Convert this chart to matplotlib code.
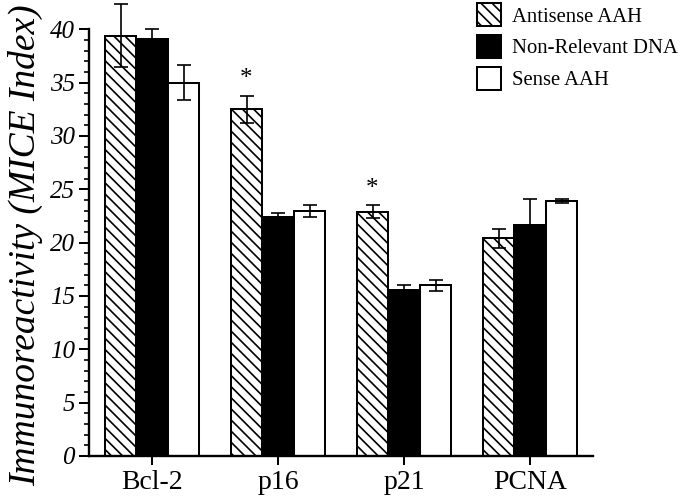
import numpy as np
import matplotlib
matplotlib.use("Agg")
import matplotlib.pyplot as plt
from matplotlib.ticker import MultipleLocator

# values
markers = ["Bcl-2", "p16", "p21", "PCNA"]
antisense = [39.4, 32.5, 22.9, 20.4]
antisense_err = [2.95, 1.25, 0.6, 0.9]
nonrelevant = [39.1, 22.4, 15.6, 21.7]
nonrelevant_err = [0.95, 0.35, 0.4, 2.35]
sense = [35.0, 23.0, 16.0, 23.9]
sense_err = [1.65, 0.55, 0.5, 0.2]
significant = [False, True, True, False]  # asterisk over antisense bar
yticks = [0, 5, 10, 15, 20, 25, 30, 35, 40]

plt.rcParams["font.family"] = ["Liberation Serif", "DejaVu Serif"]
plt.rcParams["hatch.linewidth"] = 1.2

fig = plt.figure(figsize=(6.85, 5.01), dpi=100)
ax = fig.add_axes([89 / 685, 45 / 501, 504 / 685, 426.7 / 501])

x = np.arange(len(markers))
w = 0.25
series = [
    ("Antisense AAH", antisense, antisense_err, dict(facecolor="white", hatch="\\\\\\")),
    ("Non-Relevant DNA", nonrelevant, nonrelevant_err, dict(facecolor="black")),
    ("Sense AAH", sense, sense_err, dict(facecolor="white")),
]
for i, (name, vals, err, style) in enumerate(series):
    xs = x + (i - 1) * w
    ax.bar(xs, vals, w, edgecolor="black", linewidth=1.45, label=name, zorder=2, **style)
    ax.errorbar(xs, vals, yerr=err, fmt="none", ecolor="black", elinewidth=1.2,
                capsize=4.7, capthick=1.2, zorder=3, clip_on=False)

for xi, v, e, s in zip(x, antisense, antisense_err, significant):
    if s:
        ax.text(xi - w, v + e + 1.0, "*", ha="center", va="baseline", fontsize=18)

ax.set_xlim(-0.5, 3.5)
ax.set_ylim(0, 40)
ax.set_xticks(x)
ax.set_xticklabels(markers, fontsize=20)
ax.set_yticks(yticks)
ax.set_yticklabels([str(t) for t in yticks], fontsize=18, fontstyle="italic")
ax.yaxis.set_minor_locator(MultipleLocator(1))
ax.tick_params(axis="y", which="major", length=7.2, width=1.45, pad=2.9, direction="out")
ax.tick_params(axis="y", which="minor", length=3.6, width=1.2, direction="out")
ax.tick_params(axis="x", length=6.5, width=1.45, pad=3.6)
for side in ["top", "right"]:
    ax.spines[side].set_visible(False)
for side in ["left", "bottom"]:
    ax.spines[side].set_linewidth(1.7)

fig.text(26 / 685, 1 - 245 / 501, "Immunoreactivity (MICE Index)", rotation=90,
         ha="center", va="center", fontsize=27, fontstyle="italic")

ax.legend(loc="upper left", bbox_to_anchor=(477 / 685, 1 - 3 / 501),
          bbox_transform=fig.transFigure, frameon=False, fontsize=14.9,
          handlelength=1.16, handleheight=1.35, handletextpad=0.53,
          labelspacing=0.4, borderpad=0, borderaxespad=0)

fig.savefig("out.png", dpi=100)
